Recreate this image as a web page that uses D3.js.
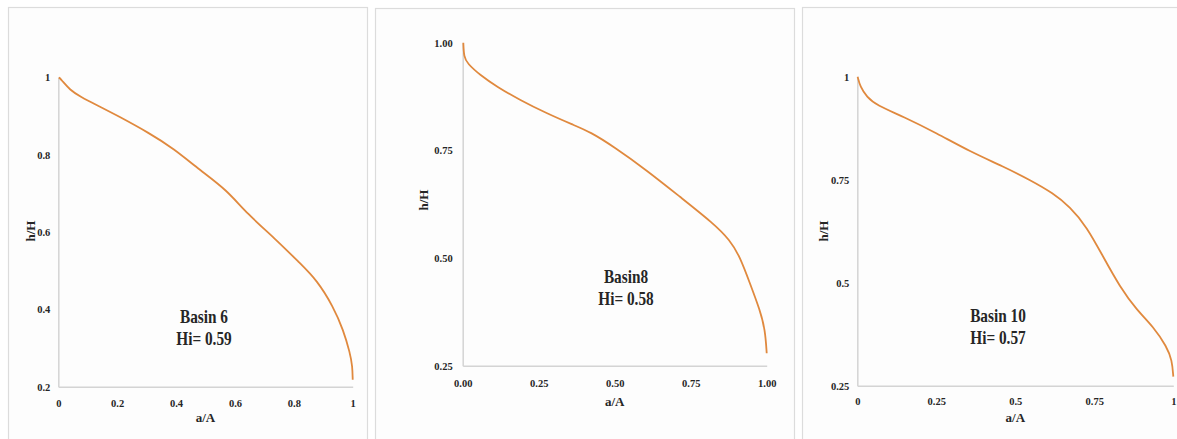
<!DOCTYPE html>
<html>
<head>
<meta charset="utf-8">
<script src="https://cdn.jsdelivr.net/npm/d3@7"></script>
<style>
  body { margin: 0; background: #ffffff; }
</style>
</head>
<body>
<script>
// Hypsometric curves, values
var basin6X = [0.002, 0.011, 0.04, 0.074, 0.142, 0.198, 0.311, 0.391, 0.481, 0.572, 0.64, 0.742, 0.821, 0.878, 0.934, 0.968, 0.991, 0.999, 1.0];
var basin6Y = [1.0, 0.993, 0.967, 0.95, 0.924, 0.902, 0.855, 0.816, 0.76, 0.709, 0.648, 0.579, 0.519, 0.476, 0.407, 0.347, 0.287, 0.253, 0.218];

var basin8X = [0.002, 0.004, 0.015, 0.057, 0.112, 0.188, 0.276, 0.364, 0.419, 0.496, 0.605, 0.715, 0.824, 0.879, 0.912, 0.945, 0.978, 0.995, 1.0];
var basin8Y = [1.0, 0.967, 0.952, 0.925, 0.898, 0.867, 0.836, 0.809, 0.793, 0.759, 0.704, 0.642, 0.581, 0.542, 0.503, 0.441, 0.379, 0.333, 0.279];

var basin10X = [0.001, 0.009, 0.03, 0.061, 0.146, 0.251, 0.357, 0.462, 0.547, 0.62, 0.673, 0.726, 0.778, 0.831, 0.884, 0.937, 0.979, 0.996, 1.0];
var basin10Y = [1.0, 0.976, 0.951, 0.931, 0.903, 0.863, 0.818, 0.782, 0.749, 0.717, 0.684, 0.636, 0.563, 0.49, 0.434, 0.393, 0.345, 0.312, 0.272];

var basinNames = ["Basin 6", "Basin8", "Basin 10"];
var hiLabels = ["Hi= 0.59", "Hi= 0.58", "Hi= 0.57"];

var ticks6X = [0, 0.2, 0.4, 0.6, 0.8, 1];
var ticks6Y = [0.2, 0.4, 0.6, 0.8, 1];
var ticks8X = [0, 0.25, 0.5, 0.75, 1];
var ticks8Y = [0.25, 0.5, 0.75, 1];
var ticks10X = [0, 0.25, 0.5, 0.75, 1];
var ticks10Y = [0.25, 0.5, 0.75, 1];

var serif = "'Liberation Serif', Tinos, 'Times New Roman', 'DejaVu Serif', serif";
var ink = "#262626";

var w = 1177;
var h = 439;

var svg = d3.select("body").append("svg")
    .attr("width", w)
    .attr("height", h)
    .attr("font-family", serif)
    .attr("font-weight", "bold");

// layout of the three panels (frame + plot area)
var panels = [
  { xs: basin6X, ys: basin6Y, tx: ticks6X, ty: ticks6Y, fx: d3.format(""), fy: d3.format(""), ymin: 0.2,
    frame: [8, 7, 359, 460], left: 58.3, right: 352.7, top: 77.3, bottom: 386.7,
    ann: [204, 317, 339], xlab: 422, ylab: [30, 231], tickGap: 19, yGap: 8 },
  { xs: basin8X, ys: basin8Y, tx: ticks8X, ty: ticks8Y, fx: d3.format(".2f"), fy: d3.format(".2f"), ymin: 0.25,
    frame: [375, 8, 419, 460], left: 462.7, right: 766.7, top: 42.7, bottom: 365.7,
    ann: [626, 277, 299], xlab: 406, ylab: [423, 200], tickGap: 20, yGap: 10 },
  { xs: basin10X, ys: basin10Y, tx: ticks10X, ty: ticks10Y, fx: d3.format(""), fy: d3.format(""), ymin: 0.25,
    frame: [802, 7, 420, 460], left: 857.3, right: 1173.3, top: 76.7, bottom: 385.7,
    ann: [998, 316, 338], xlab: 422, ylab: [823, 231], tickGap: 18, yGap: 8 }
];

function styleAxis(a) {
  a.select(".domain").attr("stroke", "#d4d4d4").attr("stroke-width", 1.5);
  a.selectAll("text")
    .attr("font-size", "10.5px")
    .attr("font-family", serif)
    .attr("font-weight", "bold")
    .attr("fill", ink);
}

panels.forEach(function(p, i) {
  var g = svg.append("g");

  g.append("rect")
    .attr("x", p.frame[0] + 0.5).attr("y", p.frame[1] + 0.5)
    .attr("width", p.frame[2]).attr("height", p.frame[3])
    .attr("fill", "#fdfdfd")
    .attr("stroke", "#dcdcdc")
    .attr("stroke-width", 1.2);

  var x = d3.scaleLinear().domain([0, 1]).range([p.left, p.right]);
  var y = d3.scaleLinear().domain([p.ymin, 1]).range([p.bottom, p.top]);

  // axes: only a light domain line, no tick marks
  g.append("g")
    .attr("transform", "translate(0," + p.bottom + ")")
    .call(d3.axisBottom(x).tickValues(p.tx).tickFormat(p.fx).tickSize(0).tickPadding(p.tickGap - 6))
    .call(styleAxis);

  g.append("g")
    .attr("transform", "translate(" + p.left + ",0)")
    .call(d3.axisLeft(y).tickValues(p.ty).tickFormat(p.fy).tickSize(0).tickPadding(p.yGap))
    .call(styleAxis);

  var pts = p.xs.map((v, k) => [v, p.ys[k]]);
  var line = d3.line()
    .x(d => x(d[0]))
    .y(d => y(d[1]))
    .curve(d3.curveBasis);

  g.append("path")
    .datum(pts)
    .attr("fill", "none")
    .attr("stroke", "#e0893e")
    .attr("stroke-width", 1.8)
    .attr("d", line);

  g.append("text")
    .attr("x", (p.left + p.right) / 2).attr("y", p.xlab)
    .attr("text-anchor", "middle")
    .attr("font-size", "13px")
    .attr("fill", ink)
    .text("a/A");

  g.append("text")
    .attr("transform", "translate(" + p.ylab[0] + "," + p.ylab[1] + ") rotate(-90)")
    .attr("text-anchor", "middle")
    .attr("dy", "0.35em")
    .attr("font-size", "13px")
    .attr("fill", ink)
    .text("h/H");

  // annotation, slightly condensed like the original
  var ann = g.append("g").attr("transform", "translate(" + p.ann[0] + ",0) scale(0.85,1)");
  ann.append("text").attr("x", 0).attr("y", p.ann[1]).attr("dy", "0.35em")
    .attr("text-anchor", "middle").attr("font-size", "18px").attr("fill", ink).text(basinNames[i]);
  ann.append("text").attr("x", 0).attr("y", p.ann[2]).attr("dy", "0.35em")
    .attr("text-anchor", "middle").attr("font-size", "18px").attr("fill", ink).text(hiLabels[i]);
});
</script>
</body>
</html>
